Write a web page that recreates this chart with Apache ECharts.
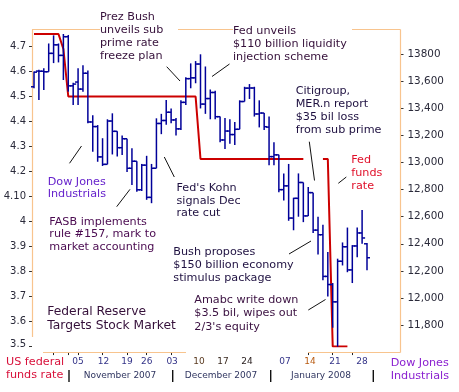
<!DOCTYPE html>
<html><head><meta charset="utf-8">
<script src="https://cdn.jsdelivr.net/npm/echarts/dist/echarts.min.js"></script>
<style>html,body{margin:0;padding:0;background:#fff;}#c{width:459px;height:392px;}</style>
</head><body><div id="c"></div>
<script>
// ---- data ----
const dates = ['2007-10-23','2007-10-24','2007-10-25','2007-10-26','2007-10-29','2007-10-30','2007-10-31',
'2007-11-01','2007-11-02','2007-11-05','2007-11-06','2007-11-07','2007-11-08','2007-11-09','2007-11-12','2007-11-13','2007-11-14','2007-11-15','2007-11-16','2007-11-19','2007-11-20','2007-11-21','2007-11-23','2007-11-26','2007-11-27','2007-11-28','2007-11-29','2007-11-30',
'2007-12-03','2007-12-04','2007-12-05','2007-12-06','2007-12-07','2007-12-10','2007-12-11','2007-12-12','2007-12-13','2007-12-14','2007-12-17','2007-12-18','2007-12-19','2007-12-20','2007-12-21','2007-12-24','2007-12-26','2007-12-27','2007-12-28','2007-12-31',
'2008-01-02','2008-01-03','2008-01-04','2008-01-07','2008-01-08','2008-01-09','2008-01-10','2008-01-11','2008-01-14','2008-01-15','2008-01-16','2008-01-17','2008-01-18','2008-01-22','2008-01-23','2008-01-24','2008-01-25','2008-01-28','2008-01-29','2008-01-30','2008-01-31'];
const dowOpen = [13560,13676,13675,13671,13807,13870,13792,13930,13567,13595,
13543,13660,13300,13266,13042,12987,13307,13231,13110,13176,
12958,13010,12799,12981,12743,12958,13289,13311,13372,13315,
13249,13445,13620,13626,13728,13432,13473,13518,13339,13167,
13233,13207,13246,13451,13550,13551,13359,13366,13262,13044,
13057,12800,12828,12590,12736,12853,12606,12778,12501,12467,
12159,12099,11971,12271,12378,12207,12384,12480,12400];
const dowHigh = [13672,13685,13697,13880,13940,13880,13950,13943,13590,13697,
13720,13680,13350,13277,13180,13320,13364,13231,13200,13176,
13105,13010,12990,13050,12990,13327,13360,13462,13400,13330,
13460,13630,13733,13750,13800,13710,13540,13530,13340,13330,
13320,13300,13460,13560,13580,13560,13460,13366,13340,13150,
13057,12920,12990,12740,12920,12853,12820,12778,12600,12540,
12340,12110,12290,12410,12520,12390,12520,12650,12405];
const dowLow = [13549,13462,13536,13671,13735,13740,13610,13524,13425,13425,
13524,13290,13080,13006,12975,12987,13060,13045,13056,12930,
12834,12785,12790,12725,12700,12958,13210,13280,13290,13200,
13240,13425,13549,13586,13400,13360,13320,13320,13150,13100,
13140,13130,13246,13451,13470,13340,13260,13240,12980,12980,
12780,12720,12570,12500,12600,12560,12606,12480,12320,12130,
12010,11780,11640,12240,12190,12110,12300,12400,12205];
const dowClose = [13668,13675,13671,13807,13870,13792,13930,13567,13580,13543,
13660,13300,13266,13042,12987,13307,13231,13110,13176,12958,
13010,12799,12981,12743,12958,13289,13311,13372,13315,13249,
13445,13620,13626,13728,13432,13473,13518,13339,13167,13233,
13207,13246,13451,13550,13551,13359,13366,13265,13044,13057,
12800,12828,12590,12736,12853,12606,12778,12501,12467,12159,
12099,11971,12271,12378,12207,12384,12480,12443,12297];
const fedRate = [4.75,4.75,4.75,4.75,4.75,4.75,4.69,
4.5,4.5,4.5,4.5,4.5,4.5,4.5,4.5,4.5,4.5,4.5,4.5,4.5,4.5,4.5,4.5,4.5,4.5,4.5,4.5,4.5,
4.5,4.5,4.5,4.5,4.5,4.5,4.25,4.25,4.25,4.25,4.25,4.25,4.25,4.25,4.25,4.25,4.25,4.25,4.25,4.25,
4.25,4.25,4.25,4.25,4.25,4.25,4.25,4.25,null,null,null,4.25,4.25,3.5,3.5,3.5,3.5,null,null,null,null];
const rateTickValues = [3.5,3.6,3.7,3.8,3.9,4.0,4.1,4.2,4.3,4.4,4.5,4.6,4.7];
const rateTickLabels = ['3.5','3.6','3.7','3.8','3.9','4','4.10','4.2','4.3','4.4','4.5','4.6','4.7'];
const dowTickValues = [11800,12000,12200,12400,12600,12800,13000,13200,13400,13600,13800];
const dowTickLabels = ['11,800','12,000','12,200','12,400','12,600','12,800','13,000','13,200','13,400','13,600','13800'];
const rateRange = {min:3.5, max:4.8, step:0.1};
const dowRange = {min:11600, max:14000, step:200};
const dayLabels = {'2007-11-05':'05','2007-11-12':'12','2007-11-19':'19','2007-11-26':'26','2007-12-03':'03',
'2007-12-10':'10','2007-12-17':'17','2007-12-24':'24','2008-01-07':'07','2008-01-14':'14','2008-01-22':'21','2008-01-28':'28'};
const tickDates = ['2007-10-29','2007-11-01','2007-11-05','2007-11-12','2007-11-19','2007-11-26','2007-12-03','2008-01-14','2008-01-22','2008-01-28'];
const monthLabels = ['November 2007','December 2007','January 2008'];

// ---- layout / style (not data) ----
const FONT = '"DejaVu Sans", Verdana, sans-serif';
const labelShift = {'2007-11-12':1,'2007-12-03':1,'2007-12-10':3.4,'2007-12-17':3,'2007-12-24':2.4,'2008-01-07':1.3,'2008-01-14':1.8,'2008-01-22':2.3,'2008-01-28':9.7};
const labelColor = {'2008-01-14':'#B85A10','2007-12-10':'#5a3a20','2007-12-17':'#3a2a20','2007-12-24':'#2a2020'};
const rich = {};
const dayKeys = Object.keys(dayLabels);
dayKeys.forEach((d,i)=>{
  const s = labelShift[d]||0;
  rich['k'+i] = {color: labelColor[d]||'#333388', fontSize:9, fontFamily:FONT,
    padding: s>=0 ? [0,0,0,2*s] : [0,-2*s,0,0]};
});

const ohlc = dates.map((d,i)=>[i, dowOpen[i], dowHigh[i], dowLow[i], dowClose[i]]);

const dark = '#35103a';
const annotations = [
  {x:100, y:10.1, lh:13.2, text:'Prez Bush\nunveils sub\nprime rate\nfreeze plan', color:dark},
  {x:233, y:24.9, lh:12.9, text:'Fed unveils\n$110 billion liquidity\ninjection scheme', color:dark},
  {x:295.7, y:84.5, lh:12.9, text:'Citigroup,\nMER.n report\n$35 bil loss\nfrom sub prime', color:'#1e1040'},
  {x:351.3, y:153.5, lh:13, text:'Fed\nfunds\nrate', color:'#E0102A'},
  {x:47.7, y:175.4, lh:12.7, text:'Dow Jones\nIndustrials', color:'#6622CC'},
  {x:49.3, y:215.4, lh:12.7, text:'FASB implements\nrule #157, mark to\nmarket accounting', color:'#4a0a50'},
  {x:176.5, y:182, lh:12.6, text:"Fed's Kohn\nsignals Dec\nrate cut", color:'#1e1040'},
  {x:173.3, y:245.8, lh:13, text:'Bush proposes\n$150 billion economy\nstimulus package', color:'#1e1040'},
  {x:194.3, y:293.4, lh:13.3, text:'Amabc write down\n$3.5 bil, wipes out\n2/3\'s equity', color:'#3a1040'},
  {x:47.3, y:304.7, lh:14, text:'Federal Reserve\nTargets Stock Market', color:'#35103a', size:12.3},
  {x:6, y:355.6, lh:13.3, text:'US federal\nfunds rate', color:'#D8103A'},
  {x:390.7, y:356, lh:13.3, text:'Dow Jones\nIndustrials', color:'#8A1FD0'}
];
const pointers = [
  [166.7,66.7,180,81],[212,76.5,229.5,64],[69.5,163.3,81.5,146],[116.7,206.7,130,189.3],
  [164.3,157,174.3,177],[309.3,141.7,314.5,180.5],[338.3,183.3,346.3,177],[289,254,311,241],[308.3,310,325.5,299.5]
];
const frameColor = '#F8C48E';
const frame = [
  [32,29.5,100,29.5],[178,29.5,233,29.5],[352,29.5,400.5,29.5],
  [32.5,29.5,32.5,337],[400.5,29.5,400.5,352.5],
  [43,352.5,186,352.5],[308,352.5,400.5,352.5]
];
const seps = [69,172.7,270.7,373.3];
const monthPos = [120,221,321];

const graphic = [];
frame.forEach(f=>graphic.push({type:'line',silent:true,z:1,shape:{x1:f[0],y1:f[1],x2:f[2],y2:f[3]},style:{stroke:frameColor,lineWidth:1.2}}));
pointers.forEach(p=>graphic.push({type:'line',silent:true,z:5,shape:{x1:p[0],y1:p[1],x2:p[2],y2:p[3]},style:{stroke:'#111',lineWidth:1}}));
seps.forEach(x=>graphic.push({type:'line',silent:true,z:5,shape:{x1:x,y1:370,x2:x,y2:382},style:{stroke:'#111',lineWidth:1.4}}));
monthLabels.forEach((t,i)=>graphic.push({type:'text',silent:true,z:5,x:monthPos[i],y:376,style:{text:t,font:'9px '+FONT,fill:'#2f3560',align:'center',verticalAlign:'middle'}}));
annotations.forEach(a=>graphic.push({type:'text',silent:true,z:5,x:a.x,y:a.y,style:{text:a.text,font:(a.size||11.2)+'px '+FONT,fill:a.color,lineHeight:a.lh,align:'left',verticalAlign:'top'}}));

function rateLabel(v){
  const k = rateTickValues.findIndex(t=>Math.abs(t-v)<1e-6);
  if(k<0) return '';
  return k===0 ? '{m|'+rateTickLabels[k]+'}' : rateTickLabels[k];
}
function dowLabel(v){
  const k = dowTickValues.indexOf(Math.round(v));
  return k<0 ? '' : dowTickLabels[k];
}

const chart = echarts.init(document.getElementById('c'), null, {renderer:'canvas'});
chart.setOption({
  animation:false,
  backgroundColor:'#ffffff',
  grid:[
    {left:34, width:333, top:21.5, height:325},
    {left:34, width:333, top:27.23, height:324.84}
  ],
  xAxis:[
    {type:'category', gridIndex:0, data:dates, boundaryGap:false, show:false},
    {type:'category', gridIndex:1, data:dates, boundaryGap:false,
     axisLine:{show:false},
     axisTick:{show:true, length:3, interval:(i,v)=>tickDates.indexOf(dates[i])>=0, lineStyle:{color:'#222',width:1}},
     axisLabel:{interval:(i,v)=>dayLabels[dates[i]]!==undefined, margin:5, fontSize:9, fontFamily:FONT, rich:rich,
       formatter:(v)=>{const k=dayKeys.indexOf(v); return '{k'+k+'|'+dayLabels[v]+'}';}},
     splitLine:{show:false}}
  ],
  yAxis:[
    {type:'value', gridIndex:0, position:'left', offset:2, min:rateRange.min, max:rateRange.max, interval:rateRange.step,
     axisLine:{show:false}, splitLine:{show:false},
     axisTick:{show:true, length:3, customValues:rateTickValues, lineStyle:{color:'#333'}},
     axisLabel:{margin:6, fontSize:10, fontFamily:FONT, color:'#2a2a3a', customValues:rateTickValues,
       rich:{m:{fontSize:10, fontFamily:FONT, color:'#2a2a3a', padding:[0,0,5,0]}},
       formatter:rateLabel}},
    {type:'value', gridIndex:1, position:'right', offset:33.5, min:dowRange.min, max:dowRange.max, interval:dowRange.step,
     axisLine:{show:false}, splitLine:{show:false},
     axisTick:{show:true, length:3, customValues:dowTickValues, lineStyle:{color:'#333'}},
     axisLabel:{margin:7, fontSize:10.4, fontFamily:FONT, color:'#2a2a3a', customValues:dowTickValues,
       formatter:dowLabel}}
  ],
  series:[
    {type:'line', xAxisIndex:0, yAxisIndex:0, data:fedRate, showSymbol:false, symbol:'none', connectNulls:false,
     lineStyle:{color:'#CC0000', width:2}, z:3},
    {type:'custom', xAxisIndex:1, yAxisIndex:1, data:ohlc, encode:{x:0, y:[1,2,3,4]}, z:4,
     renderItem:function(params, api){
       const i = api.value(0);
       const o = api.coord([i, api.value(1)]);
       const h = api.coord([i, api.value(2)]);
       const l = api.coord([i, api.value(3)]);
       const c = api.coord([i, api.value(4)]);
       const st = {stroke:'#000099', lineWidth:1.5};
       return {type:'group', children:[
         {type:'line', shape:{x1:h[0], y1:h[1], x2:l[0], y2:l[1]}, style:st},
         {type:'line', shape:{x1:o[0]-3, y1:o[1], x2:o[0], y2:o[1]}, style:st},
         {type:'line', shape:{x1:c[0], y1:c[1], x2:c[0]+3, y2:c[1]}, style:st}
       ]};
     }}
  ],
  graphic: graphic
});
</script></body></html>
